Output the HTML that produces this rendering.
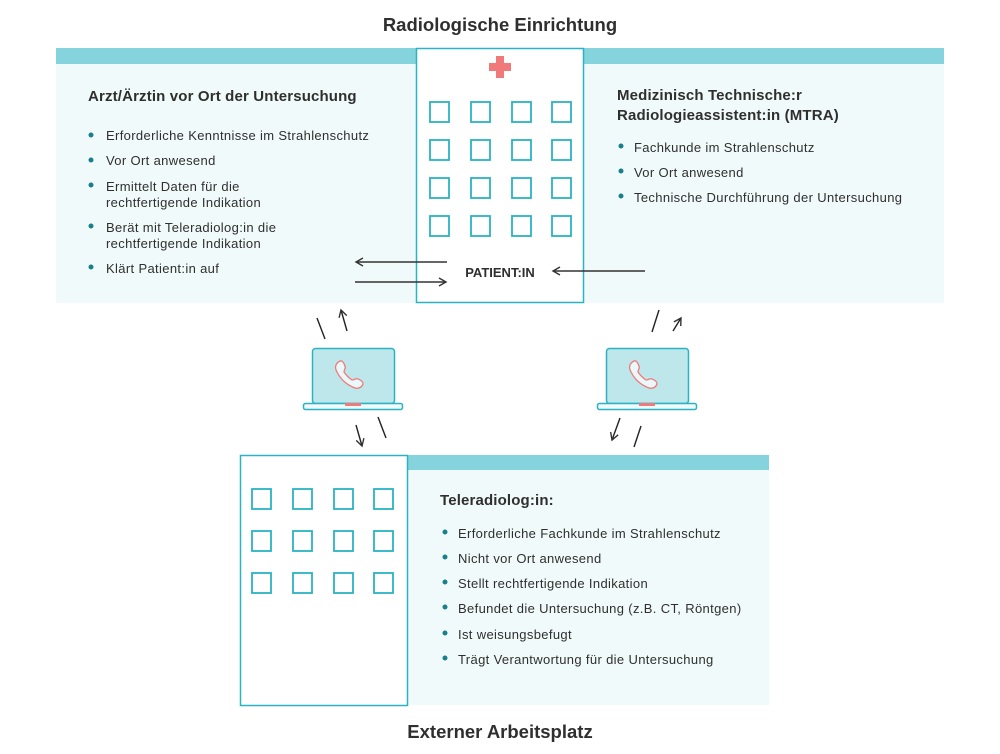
<!DOCTYPE html>
<html><head><meta charset="utf-8"><style>
html,body{margin:0;padding:0;background:#fff;}
svg{display:block;}
text{font-family:"Liberation Sans",sans-serif;fill:#2f2f2f;}
.b{font-weight:bold;}
.t{font-size:13px;letter-spacing:0.35px;}
.h{font-size:15px;font-weight:bold;letter-spacing:0.15px;}
</style></head><body>
<svg width="1000" height="754" viewBox="0 0 1000 754" xmlns="http://www.w3.org/2000/svg">
<defs>
<marker id="ah" markerWidth="10" markerHeight="10" refX="8" refY="5" orient="auto" markerUnits="userSpaceOnUse">
<path d="M1,1 L8,5 L1,9" fill="none" stroke="#333" stroke-width="1.4"/>
</marker>
</defs>
<text x="500" y="31" text-anchor="middle" class="b" font-size="18.5">Radiologische Einrichtung</text>
<text x="500" y="738" text-anchor="middle" class="b" font-size="18.5">Externer Arbeitsplatz</text>

<rect x="56" y="64" width="888" height="239" fill="#f1fafb"/>
<rect x="56" y="48" width="888" height="16" fill="#85d3dc"/>
<rect x="416.5" y="48.5" width="167" height="254" fill="#fff" stroke="#2ab3c2" stroke-width="1.5"/>
<path d="M496,56 h8 v7 h7 v8 h-7 v7 h-8 v-7 h-7 v-8 h7z" fill="#f07a7a"/>
<g fill="none" stroke="#2ab3c2" stroke-width="1.8">
<rect x="430" y="102" width="19" height="20"/><rect x="471" y="102" width="19" height="20"/><rect x="512" y="102" width="19" height="20"/><rect x="552" y="102" width="19" height="20"/>
<rect x="430" y="140" width="19" height="20"/><rect x="471" y="140" width="19" height="20"/><rect x="512" y="140" width="19" height="20"/><rect x="552" y="140" width="19" height="20"/>
<rect x="430" y="178" width="19" height="20"/><rect x="471" y="178" width="19" height="20"/><rect x="512" y="178" width="19" height="20"/><rect x="552" y="178" width="19" height="20"/>
<rect x="430" y="216" width="19" height="20"/><rect x="471" y="216" width="19" height="20"/><rect x="512" y="216" width="19" height="20"/><rect x="552" y="216" width="19" height="20"/>
</g>
<text x="500" y="277" text-anchor="middle" class="b" font-size="13">PATIENT:IN</text>
<g stroke="#333" stroke-width="1.4" fill="none">
<line x1="447" y1="262" x2="356" y2="262" marker-end="url(#ah)"/>
<line x1="355" y1="282" x2="446" y2="282" marker-end="url(#ah)"/>
<line x1="645" y1="271" x2="553" y2="271" marker-end="url(#ah)"/>
</g>

<text x="88" y="101" class="h">Arzt/Ärztin vor Ort der Untersuchung</text>
<g fill="#17808a"><circle cx="91" cy="135" r="2.5"/><circle cx="91" cy="160" r="2.5"/><circle cx="91" cy="185" r="2.5"/><circle cx="91" cy="226" r="2.5"/><circle cx="91" cy="267" r="2.5"/></g>
<text x="106" y="140" class="t">Erforderliche Kenntnisse im Strahlenschutz</text>
<text x="106" y="165" class="t">Vor Ort anwesend</text>
<text x="106" y="191" class="t">Ermittelt Daten für die</text>
<text x="106" y="207" class="t">rechtfertigende Indikation</text>
<text x="106" y="232" class="t">Berät mit Teleradiolog:in die</text>
<text x="106" y="248" class="t">rechtfertigende Indikation</text>
<text x="106" y="273" class="t">Klärt Patient:in auf</text>

<text x="617" y="100" class="h">Medizinisch Technische:r</text>
<text x="617" y="120" class="h">Radiologieassistent:in (MTRA)</text>
<g fill="#17808a"><circle cx="621" cy="146" r="2.5"/><circle cx="621" cy="171" r="2.5"/><circle cx="621" cy="196" r="2.5"/></g>
<text x="634" y="152" class="t">Fachkunde im Strahlenschutz</text>
<text x="634" y="177" class="t">Vor Ort anwesend</text>
<text x="634" y="202" class="t">Technische Durchführung der Untersuchung</text>

<g id="lap">
<rect x="312.5" y="348.5" width="82" height="55" rx="3" fill="#bde7ea" stroke="#2ab3c2" stroke-width="1.5"/>
<rect x="303.5" y="403.5" width="99" height="6" rx="2" fill="#f1fafb" stroke="#2ab3c2" stroke-width="1.5"/>
<rect x="345" y="403" width="16" height="3" fill="#f07a7a"/>
<path d="M340,361 c-4,2 -6,6 -3,11 c4,8 10,13 18,16 c4,1 7,-1 8,-4 c0,-2 -2,-4 -5,-5 c-2,-1 -4,1 -6,1 c-3,-2 -6,-5 -8,-8 c0,-2 2,-4 1,-6 c-1,-3 -3,-6 -5,-5z" fill="#eaf8f9" stroke="#f07a7a" stroke-width="1.3"/>
</g>
<use href="#lap" x="294" y="0"/>

<g stroke="#222" stroke-width="1.4" fill="none">
<line x1="317" y1="318" x2="325" y2="339"/>
<line x1="347" y1="331" x2="341" y2="310" marker-end="url(#ah)"/>
<line x1="356" y1="425" x2="362" y2="446" marker-end="url(#ah)"/>
<line x1="378" y1="417" x2="386" y2="438"/>
<line x1="659" y1="310" x2="652" y2="332"/>
<line x1="673" y1="331" x2="681" y2="318" marker-end="url(#ah)"/>
<line x1="620" y1="418" x2="612" y2="440" marker-end="url(#ah)"/>
<line x1="641" y1="426" x2="634" y2="447"/>
</g>

<rect x="407" y="470" width="362" height="235" fill="#f1fafb"/>
<rect x="407" y="455" width="362" height="15" fill="#85d3dc"/>
<rect x="240.5" y="455.5" width="167" height="250" fill="#fff" stroke="#2ab3c2" stroke-width="1.5"/>
<g fill="none" stroke="#2ab3c2" stroke-width="1.8">
<rect x="252" y="489" width="19" height="20"/><rect x="293" y="489" width="19" height="20"/><rect x="334" y="489" width="19" height="20"/><rect x="374" y="489" width="19" height="20"/>
<rect x="252" y="531" width="19" height="20"/><rect x="293" y="531" width="19" height="20"/><rect x="334" y="531" width="19" height="20"/><rect x="374" y="531" width="19" height="20"/>
<rect x="252" y="573" width="19" height="20"/><rect x="293" y="573" width="19" height="20"/><rect x="334" y="573" width="19" height="20"/><rect x="374" y="573" width="19" height="20"/>
</g>
<text x="440" y="505" class="h">Teleradiolog:in:</text>
<g fill="#17808a"><circle cx="445" cy="532" r="2.5"/><circle cx="445" cy="557" r="2.5"/><circle cx="445" cy="582" r="2.5"/><circle cx="445" cy="607" r="2.5"/><circle cx="445" cy="633" r="2.5"/><circle cx="445" cy="658" r="2.5"/></g>
<text x="458" y="538" class="t">Erforderliche Fachkunde im Strahlenschutz</text>
<text x="458" y="563" class="t">Nicht vor Ort anwesend</text>
<text x="458" y="588" class="t">Stellt rechtfertigende Indikation</text>
<text x="458" y="613" class="t">Befundet die Untersuchung (z.B. CT, Röntgen)</text>
<text x="458" y="639" class="t">Ist weisungsbefugt</text>
<text x="458" y="664" class="t">Trägt Verantwortung für die Untersuchung</text>
</svg>
</body></html>
